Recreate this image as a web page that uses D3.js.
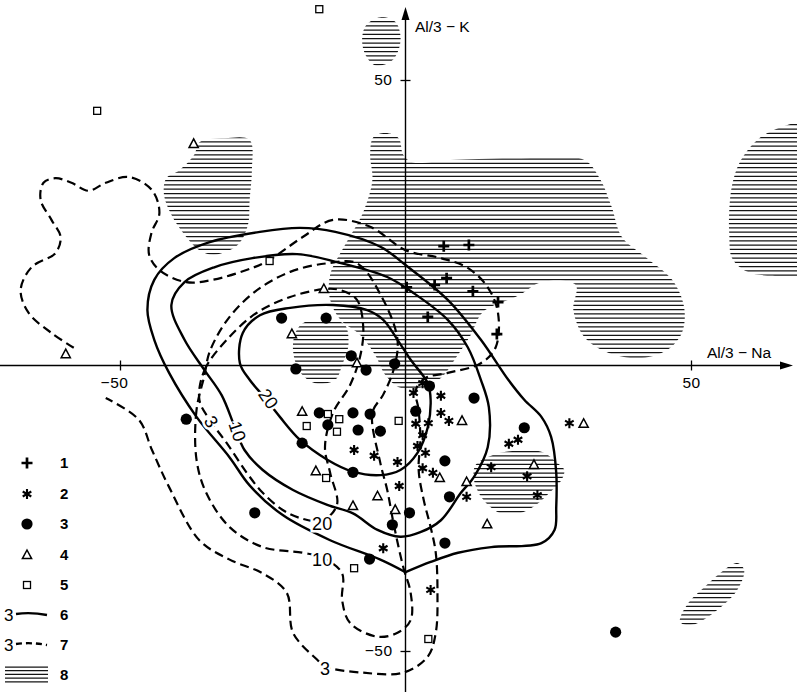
<!DOCTYPE html>
<html>
<head>
<meta charset="utf-8">
<script src="https://cdn.jsdelivr.net/npm/d3@7"></script>
<style>
  html, body { margin: 0; padding: 0; background: #fff; }
  svg { display: block; }
</style>
</head>
<body>
<svg id="chart" width="797" height="692"></svg>
<script>
// ---- point groups (Al/3 - Na, Al/3 - K) ----
const group1 = [[6.7,20.9],[11.1,21.1],[0.2,13.7],[5.1,14.1],[7.2,15.3],[11.8,13.0],[16.2,11.1],[3.9,8.5],[16.0,5.5]];
const group2 = [[3.0,-3.1],[1.4,-4.8],[6.2,-5.3],[6.2,-8.3],[7.6,-9.7],[1.8,-10.2],[4.0,-10.1],[3.0,-12.2],[2.1,-14.1],[3.5,-15.3],
  [-1.4,-16.9],[-5.5,-15.8],[-9.0,-14.8],[3.0,-18.0],[4.8,-18.8],[-1.1,-21.1],[10.7,-23.0],[15.0,-17.8],[18.1,-13.7],[19.7,-13.0],
  [21.3,-19.4],[23.1,-22.7],[28.7,-10.1],[-3.9,-32.0],[4.4,-39.3]];
const group3 = [[-21.7,8.3],[-13.9,8.3],[-9.5,1.7],[-6.9,-0.8],[-19.2,-0.6],[-1.9,0.3],[4.2,-3.6],[12.0,-5.7],[20.8,-10.9],
  [-38.4,-9.4],[-15.1,-8.3],[-13.6,-10.4],[-9.2,-8.3],[-6.2,-8.5],[-8.3,-11.3],[-4.4,-11.5],[-18.1,-13.6],[-9.2,-18.7],
  [1.8,-8.0],[6.9,-16.7],[7.7,-23.0],[0.7,-25.8],[-2.3,-27.9],[6.9,-31.1],[-6.3,-33.9],[-26.4,-25.8],[36.8,-46.7]];
const group4 = [[-37.1,38.8],[-59.5,2.0],[-14.3,13.4],[-19.9,5.5],[-8.5,0.4],[-18.1,-8.1],[-15.7,-18.5],[-4.9,-22.9],
  [-9.2,-24.6],[-1.8,-25.3],[9.9,-9.7],[6.0,-19.7],[10.7,-20.4],[14.3,-27.8],[22.5,-17.4],[31.2,-10.2]];
const group5 = [[-15.1,62.4],[-54.0,44.6],[-23.8,18.3],[-13.6,-8.5],[-11.6,-9.4],[-17.3,-10.6],[-12.0,-11.6],[-1.2,-9.7],
  [-13.9,-19.7],[-9.0,-35.5],[4.0,-47.9]];

// ---- isolines of group density (solid) ----
const solid3 = [[0,-36.2],[-4.4,-34.0],[-13.2,-30.6],[-21.5,-26.2],[-27.3,-21.0],[-30.8,-16.1],[-36.6,-9.0],[-41.4,-1.3],
  [-44.0,4.5],[-45.2,9.7],[-44.0,15.0],[-40.5,18.8],[-34.3,21.6],[-25.5,23.4],[-18.5,24.1],[-12.3,23.4],[-4.4,20.8],[0,17.6],
  [7.4,11.5],[13.2,4.5],[18.0,-2.5],[20.8,-6.0],[23.8,-9.0],[25.5,-12.5],[26.4,-18.8],[26.4,-24.8],[26.1,-28.8],[23.8,-31.1],
  [15.0,-31.8],[9.2,-32.8],[4.4,-34.4],[0,-36.2]];
const solid10 = [[-0.9,-30.0],[-4.9,-28.8],[-9.2,-25.9],[-13.7,-24.4],[-19.7,-21.8],[-25.0,-18.3],[-28.2,-14.8],[-29.9,-10.8],
  [-32.2,-5.2],[-35.2,-0.8],[-38.7,4.5],[-41.0,10.6],[-38.7,14.6],[-33.5,17.2],[-26.8,18.8],[-19.0,19.5],[-12.0,18.1],
  [-3.2,15.5],[1.4,12.7],[7.4,8.0],[10.9,3.2],[13.2,-2.5],[14.6,-7.3],[14.4,-14.3],[12.0,-19.5],[9.7,-22.3],[6.2,-27.1],[2.6,-29.2]];
const solid20 = [[-29.0,0.4],[-28.5,5.7],[-25.5,8.8],[-20.2,10.1],[-12.7,10.6],[-6.7,9.7],[-3.9,8.0],[-1.4,4.5],[0.9,1.0],
  [3.9,-3.1],[4.4,-6.0],[3.9,-10.8],[2.1,-15.3],[-0.9,-18.3],[-4.4,-19.2],[-9.2,-18.6],[-13.7,-16.5],[-18.5,-13.0],
  [-22.0,-9.0],[-24.6,-5.7],[-27.3,-2.5]];

// ---- isolines (dashed) ----
const dashed3 = [[-58.1,3.1],[-62.0,5.7],[-66.0,9.2],[-67.4,13.2],[-65.5,17.2],[-61.3,19.7],[-60.4,22.5],[-62.0,25.5],
  [-63.9,29.0],[-63.4,32.0],[-61.3,32.8],[-58.5,32.0],[-55.5,30.6],[-52.5,32.0],[-48.4,33.0],[-44.4,30.7],[-43.1,26.7],
  [-44.5,23.2],[-44.9,19.4],[-43.1,16.7],[-38.4,14.6],[-33.8,15.0],[-26.8,17.1],[-23.8,18.5],[-18.0,22.5],[-12.7,25.5],
  [-6.2,24.3],[0,20.2],[6.2,18.8],[10.9,17.1],[14.4,13.7],[16.2,9.2],[15.8,3.2],[13.2,0.4],[7.4,-1.3],[3.5,-2.2],[1.8,-4.3],
  [2.3,-7.8],[2.6,-13.0],[2.3,-18.3],[3.2,-23.6],[4.4,-28.3],[5.3,-32.8],[5.6,-39.8],[5.3,-46.8],[3.9,-51.0],[-0.4,-53.8],
  [-7.4,-53.8],[-14.1,-52.7],[-15.5,-51.5],[-19.7,-46.8],[-20.8,-39.8],[-25.0,-36.4],[-30.8,-34.0],[-36.1,-30.6],
  [-41.4,-21.3],[-44.4,-14.8],[-46.7,-9.5],[-52.5,-5.7]];
const dashed10 = [[-35.2,-1.7],[-36.6,-7.8],[-36.6,-16.5],[-34.9,-22.3],[-30.8,-28.3],[-25.0,-31.8],[-18.0,-32.8],[-14.4,-33.7],
  [-11.1,-36.4],[-11.1,-41.1],[-9.7,-45.1],[-4.9,-47.5],[-1.4,-46.8],[0.9,-44.6],[0.9,-39.8],[-0.4,-35.3],[-2.1,-27.6],
  [-3.2,-21.8],[-4.4,-17.1],[-5.8,-8.3],[-3.9,-5.1],[-2.1,-0.8],[-1.4,4.5],[-3.9,11.5],[-8.5,17.9],[-13.7,17.9],
  [-20.2,16.4],[-26.4,12.9],[-31.2,8.0],[-34.3,2.4]];
const dashed20 = [[-36.1,-6.0],[-35.2,-0.8],[-31.3,4.5],[-26.1,9.2],[-20.2,12.0],[-14.1,13.4],[-11.4,13.2],[-8.5,11.5],
  [-7.4,6.7],[-7.9,1.8],[-9.7,-3.4],[-12.7,-8.3],[-14.1,-14.3],[-13.2,-18.8],[-12.0,-24.4],[-14.6,-27.2],[-18.5,-26.7],
  [-21.5,-25.3],[-25.0,-22.3],[-27.8,-18.8],[-31.3,-13.6],[-34.3,-9.5]];

// ---- hatched fields ----
const fields = [
  [[-4.4,61.0],[-1.8,60.2],[-0.9,57.9],[-1.2,55.3],[-2.6,53.2],[-5.3,52.6],[-7.0,54.4],[-7.6,57.0],[-6.9,59.6]],
  [[-36.1,39.1],[-31.7,39.8],[-27.3,39.5],[-26.9,34.2],[-27.3,29.0],[-27.6,24.6],[-29.4,21.1],[-33.5,19.4],[-36.1,20.2],
   [-38.7,22.9],[-41.0,26.4],[-42.3,29.9],[-41.9,32.8],[-39.6,34.2],[-37.0,36.9]],
  [[-5.6,40.0],[-3.5,40.7],[-1.2,39.8],[-0.4,36.9],[1.2,35.6],[7.9,36.0],[20.2,36.3],[31.3,36.0],[34.0,32.8],[36.1,27.8],
   [37.9,22.5],[42.3,18.8],[46.7,15.0],[48.8,10.2],[48.4,5.7],[45.8,2.7],[41.4,1.3],[35.6,2.2],[31.3,5.0],[29.4,9.7],
   [29.8,14.1],[23.8,14.6],[19.7,12.2],[13.6,9.4],[11.4,5.3],[8.8,1.3],[6.2,-2.2],[2.6,-3.9],[-0.9,-3.9],[-3.5,-1.7],
   [-5.3,1.8],[-7.9,5.3],[-11.4,8.0],[-13.2,11.5],[-13.2,15.9],[-10.6,21.1],[-7.6,26.4],[-5.8,32.5],[-6.2,36.9]],
  [[-17.6,7.6],[-13.2,8.0],[-10.6,7.1],[-10.0,3.6],[-11.1,0.1],[-12.3,-2.5],[-15.8,-3.1],[-18.5,-1.1],[-19.7,2.7],[-19.2,5.9]],
  [[66.0,41.8],[69.5,42.1],[69.5,15.9],[64.3,15.7],[59.9,16.4],[57.2,18.8],[56.7,22.9],[56.7,27.2],[57.2,31.6],[58.5,35.5],[61.6,39.5]],
  [[17.6,-15.1],[23.8,-15.1],[26.4,-16.9],[27.8,-18.3],[27.3,-20.1],[25.2,-22.3],[22.9,-24.4],[19.9,-25.9],[16.7,-25.9],
   [13.7,-23.6],[12.0,-20.1],[12.3,-17.4],[15.0,-15.8]],
  [[58.1,-34.6],[59.3,-35.8],[58.1,-39.3],[54.6,-42.8],[50.2,-45.4],[48.1,-44.9],[49.3,-41.9],[52.8,-38.4],[55.8,-35.8]]
];

// ---- isoline labels: [text, x, y, rotation] ----
const isoLabels = [
  ["3", -34.0, -9.8, 58], ["10", -29.4, -11.5, 72], ["20", -24.0, -5.8, 55],
  ["20", -14.6, -27.6, 0], ["10", -14.6, -33.9, 0], ["3", -14.1, -53.0, 0]
];
const xTicks = [-50, 50];
const yTicks = [-50, 50];
const legendKeys = ["1", "2", "3", "4", "5", "6", "7", "8"];

// ---- scales ----
const W = 797, H = 692;
const svg = d3.select("#chart");
const x = d3.scaleLinear().domain([-50, 50]).range([120, 691]);
const y = d3.scaleLinear().domain([-50, 50]).range([651, 80]);
const X0 = x(0), Y0 = y(0);

const openLine = d3.line().x(d => x(d[0])).y(d => y(d[1])).curve(d3.curveCatmullRom.alpha(0.5));
const closedLine = d3.line().x(d => x(d[0])).y(d => y(d[1])).curve(d3.curveCatmullRomClosed.alpha(0.5));

// ---- hatched fields ----
const defs = svg.append("defs");
const hatchG = svg.append("g");
const STEP = 4.3;
fields.forEach((f, i) => {
  const id = "field" + i;
  defs.append("clipPath").attr("id", id).append("path").attr("d", closedLine(f));
  const px = f.map(p => x(p[0])), py = f.map(p => y(p[1]));
  const x0 = d3.min(px) - 6, x1 = d3.max(px) + 6;
  const ys = d3.range(Math.floor((d3.min(py) - 6) / STEP) * STEP, d3.max(py) + 6, STEP);
  hatchG.append("g").attr("clip-path", `url(#${id})`)
    .selectAll("line").data(ys).join("line")
    .attr("x1", x0).attr("x2", x1).attr("y1", d => d).attr("y2", d => d)
    .attr("stroke", "#141414").attr("stroke-width", 1.25);
});

// ---- axes ----
const axisG = svg.append("g").attr("stroke", "#000").attr("fill", "#000");
axisG.append("line").attr("x1", 0).attr("x2", W - 8).attr("y1", Y0).attr("y2", Y0).attr("stroke-width", 1.4);
axisG.append("path").attr("d", `M${W - 4},${Y0} L${W - 17},${Y0 - 4} L${W - 17},${Y0 + 4} Z`).attr("stroke", "none");
axisG.append("line").attr("x1", X0).attr("x2", X0).attr("y1", H).attr("y2", 12).attr("stroke-width", 1.4);
axisG.append("path").attr("d", `M${X0},${7} L${X0 - 4},${20} L${X0 + 4},${20} Z`).attr("stroke", "none");

const fmt = d => (d < 0 ? "\u2212" : "") + Math.abs(d);
const tickFont = "Liberation Sans, Arial, sans-serif";
const xAxis = svg.append("g").attr("transform", `translate(0,${Y0})`)
  .call(d3.axisBottom(x).tickValues(xTicks).tickSize(5).tickPadding(6).tickFormat(fmt));
xAxis.select(".domain").remove();
xAxis.selectAll(".tick line").attr("y1", -5).attr("stroke-width", 1.3);
xAxis.selectAll(".tick text").attr("font-family", tickFont).attr("font-size", 15.5).attr("fill", "#000")
  .attr("dx", d => d < 0 ? -6 : 0).attr("letter-spacing", 0.5);

const yAxis = svg.append("g").attr("transform", `translate(${X0},0)`)
  .call(d3.axisLeft(y).tickValues(yTicks).tickSize(5).tickPadding(8).tickFormat(fmt));
yAxis.select(".domain").remove();
yAxis.selectAll(".tick line").attr("x1", 5).attr("stroke-width", 1.3);
yAxis.selectAll(".tick text").attr("font-family", tickFont).attr("font-size", 15.5).attr("fill", "#000").attr("letter-spacing", 0.5);

svg.append("text").attr("x", 707).attr("y", 358).attr("font-family", tickFont).attr("font-size", 15.5).text("Al/3 \u2212 Na");
svg.append("text").attr("x", 415).attr("y", 32).attr("font-family", tickFont).attr("font-size", 15.5).text("Al/3 \u2212 K");

// ---- isolines ----
const isoG = svg.append("g").attr("fill", "none").attr("stroke", "#000").attr("stroke-linecap", "round");
isoG.append("path").attr("d", openLine(solid3)).attr("stroke-width", 2.4);
[solid10, solid20].forEach(d => isoG.append("path").attr("d", closedLine(d)).attr("stroke-width", 2.4));
isoG.append("path").attr("d", openLine(dashed3)).attr("stroke-width", 2.2).attr("stroke-dasharray", "9,5").attr("stroke-linecap", "butt");
[dashed10, dashed20].forEach(d => isoG.append("path").attr("d", closedLine(d)).attr("stroke-width", 2.2)
  .attr("stroke-dasharray", "9,5").attr("stroke-linecap", "butt"));

svg.append("g").selectAll("text").data(isoLabels).join("text")
  .attr("transform", d => `translate(${x(d[1])},${y(d[2])}) rotate(${d[3]})`)
  .attr("text-anchor", "middle").attr("dy", "0.36em")
  .attr("font-family", tickFont).attr("font-size", 18)
  .attr("stroke", "#fff").attr("stroke-width", 5).attr("paint-order", "stroke")
  .text(d => d[0]);

// ---- markers ----
function plus(g) {
  g.append("path").attr("d", "M-5.5,0H5.5M0,-5.5V5.5").attr("stroke", "#000").attr("stroke-width", 2.7).attr("fill", "none");
}
function star(g) {
  g.append("path").attr("d", "M0,-5V5M-4.3,-2.5L4.3,2.5M-4.3,2.5L4.3,-2.5").attr("stroke", "#000").attr("stroke-width", 2.1).attr("fill", "none");
}
function dot(g) { g.append("circle").attr("r", 5.6).attr("fill", "#000"); }
function tri(g) {
  g.append("path").attr("d", "M0,-5L4.6,3.6L-4.6,3.6Z").attr("stroke", "#000").attr("stroke-width", 1.5).attr("fill", "#fff");
}
function sq(g) {
  g.append("rect").attr("x", -3.5).attr("y", -3.5).attr("width", 7).attr("height", 7)
    .attr("stroke", "#000").attr("stroke-width", 1.3).attr("fill", "#fff");
}
const groups = [[group5, sq], [group4, tri], [group3, dot], [group2, star], [group1, plus]];
const markG = svg.append("g");
groups.forEach(([data, sym]) => {
  markG.append("g").selectAll("g").data(data).join("g")
    .attr("transform", d => `translate(${x(d[0])},${y(d[1])})`)
    .each(function () { sym(d3.select(this)); });
});

// ---- legend ----
const legY = [463, 494, 524, 555, 585, 615, 645, 675];
const leg = svg.append("g");
const legSyms = [plus, star, dot, tri, sq];
legSyms.forEach((s, i) => {
  const g = leg.append("g").attr("transform", `translate(27,${legY[i]})`);
  s(g);
});
leg.append("text").attr("x", 4).attr("y", legY[5] + 6).attr("font-family", tickFont).attr("font-size", 17).text("3");
leg.append("path").attr("d", `M16,${legY[5] - 1} Q31,${legY[5] - 3} 47,${legY[5]}`).attr("fill", "none").attr("stroke", "#000").attr("stroke-width", 2.3);
leg.append("text").attr("x", 4).attr("y", legY[6] + 6).attr("font-family", tickFont).attr("font-size", 17).text("3");
leg.append("path").attr("d", `M16,${legY[6] - 1} Q31,${legY[6] - 3} 47,${legY[6]}`).attr("fill", "none").attr("stroke", "#000")
  .attr("stroke-width", 2.3).attr("stroke-dasharray", "6,4");
d3.range(5).forEach(k => {
  leg.append("line").attr("x1", 5).attr("x2", 48).attr("y1", legY[7] - 8 + k * 3.7).attr("y2", legY[7] - 8 + k * 3.7)
    .attr("stroke", "#141414").attr("stroke-width", 1.25);
});
leg.selectAll("text.key").data(legendKeys).join("text").attr("class", "key")
  .attr("x", 60).attr("y", (d, i) => legY[i]).attr("dy", "0.36em")
  .attr("font-family", "Liberation Sans Narrow, Liberation Sans, Arial, sans-serif").attr("font-weight", "bold").attr("font-size", 15)
  .text(d => d);
</script>
</body>
</html>
